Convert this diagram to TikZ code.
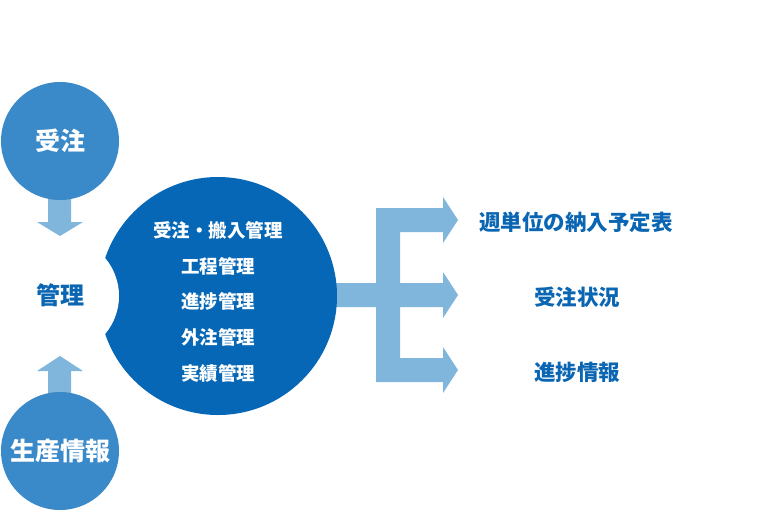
\documentclass[tikz,border=0pt]{standalone}
\usepackage{fontspec}
\newfontfamily\jp{Noto Sans CJK JP}
\definecolor{midblue}{HTML}{3A89C9}
\definecolor{darkblue}{HTML}{0567B5}
\definecolor{lightblue}{HTML}{80B5DC}
\definecolor{textblue}{HTML}{0A66B2}
\tikzset{
  smallcircle/.style={circle, fill=midblue, minimum size=118pt, inner sep=0pt, text=white, font=\jp\bfseries\fontsize{25}{25}\selectfont},
  innerlabel/.style={text=white, font=\jp\bfseries\fontsize{18.5}{18.5}\selectfont, anchor=center, inner sep=0pt},
  outlabel/.style={text=textblue, font=\jp\bfseries\fontsize{21.5}{21.5}\selectfont, anchor=center, inner sep=0pt},
  blockarrow/.style={fill=lightblue, draw=none}
}
\begin{document}
\begin{tikzpicture}[x=1pt,y=-1pt]
\useasboundingbox (0,0) rectangle (768,512);
% arrows on the left
\fill[lightblue] (48,195) -- (71,195) -- (71,222) -- (83,222) -- (60,236) -- (37,222) -- (48,222) -- cycle;
\fill[lightblue] (48,397) -- (71,397) -- (71,371) -- (83,371) -- (60,356) -- (37,371) -- (48,371) -- cycle;
% right fork
\fill[lightblue] (330,283) -- (376,283) -- (376,208) -- (443,208) -- (443,197) -- (458,220) -- (443,243) -- (443,232) -- (400,232)
  -- (400,283) -- (443,283) -- (443,272) -- (458,295) -- (443,318) -- (443,307) -- (400,307)
  -- (400,358) -- (443,358) -- (443,347) -- (458,370) -- (443,393) -- (443,382) -- (376,382) -- (376,307) -- (330,307) -- cycle;
% circles
\node[smallcircle] (order) at (60,141) {受注};
\node[smallcircle] (prod) at (60,451) {生産情報};
\node[circle, fill=darkblue, minimum size=238pt, inner sep=0pt] (big) at (218,296) {};
\fill[white] (60,296) circle (59);
\node[text=textblue, font=\jp\bfseries\fontsize{24}{24}\selectfont] (kanri) at (60,295) {管理};
% inner texts
\node[innerlabel] (l1) at (218,230) {受注・搬入管理};
\node[innerlabel] (l2) at (218,266) {工程管理};
\node[innerlabel] (l3) at (218,301) {進捗管理};
\node[innerlabel] (l4) at (218,337) {外注管理};
\node[innerlabel] (l5) at (218,373) {実績管理};
% outputs
\node[outlabel] (o1) at (576,222) {週単位の納入予定表};
\node[outlabel] (o2) at (577,297) {受注状況};
\node[outlabel] (o3) at (577,372) {進捗情報};
\end{tikzpicture}
\end{document}
